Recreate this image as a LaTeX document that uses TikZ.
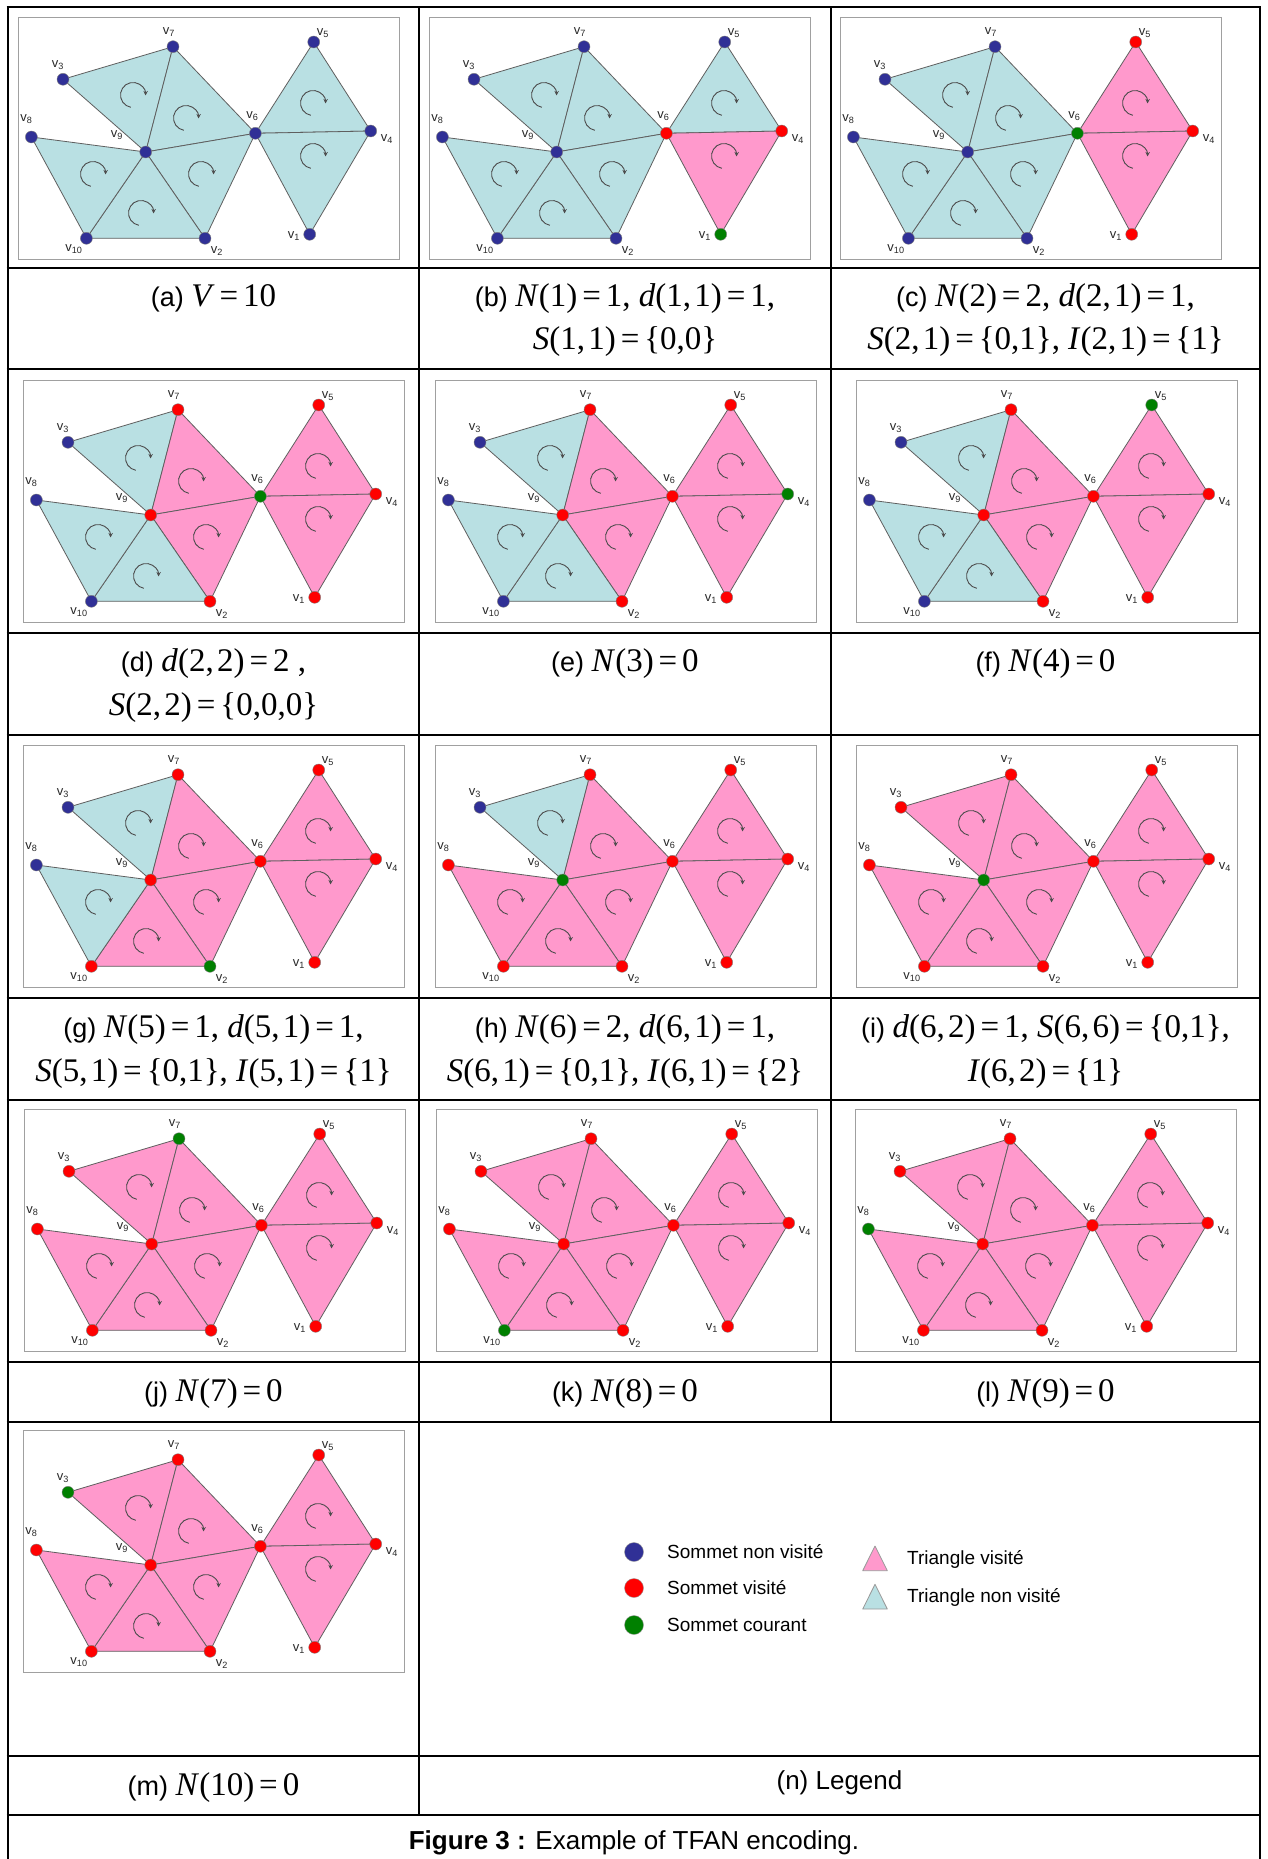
\documentclass[tikz,border=0pt]{standalone}
\usepackage{fontspec}
\setmainfont{Liberation Sans}
\newfontfamily\tms{Liberation Serif}
\usepackage{tikz}
\usepackage{xcolor}
\usetikzlibrary{arrows.meta,positioning,calc}
\definecolor{ink}{RGB}{0,0,0}
\definecolor{edgegray}{RGB}{95,95,95}
\definecolor{framegray}{RGB}{160,160,160}
\definecolor{labgray}{RGB}{40,40,40}
\definecolor{tv}{RGB}{255,153,204}
\definecolor{tn}{RGB}{185,224,227}
\definecolor{sn}{RGB}{48,48,150}
\definecolor{sv}{RGB}{255,0,0}
\definecolor{sc}{RGB}{0,128,0}
\newcommand{\mth}[1]{{\tms\fontsize{33}{33}\selectfont #1}}
\newcommand{\vr}[1]{\textit{#1}}
\newcommand{\eqs}{\kern0.15em=\kern0.15em}
\newcommand{\cm}{,\kern0.1em}
\tikzset{
  hrule/.style={line width=2.6pt,draw=ink},
  vrule/.style={line width=2pt,draw=ink},
  imgframe/.style={draw=framegray,line width=1pt,fill=white,minimum width=381pt,minimum height=242pt,inner sep=0pt,anchor=north west},
  tri/.style={fill=#1,draw=edgegray,line width=0.8pt,line join=round},
  spin/.style={draw=black!70,line width=0.9pt,-{Stealth[length=4.5pt,width=4.5pt]}},
  vdot/.style={circle,inner sep=0pt,minimum size=12pt,draw=black!50,line width=0.4pt,fill=#1},
  vlab/.style={font=\fontsize{13}{13}\selectfont,text=labgray,inner sep=0pt},
  captxt/.style={anchor=base,inner sep=0pt,font=\fontsize{27}{27}\selectfont},
  legdot/.style={circle,inner sep=0pt,minimum size=19pt,draw=black!40,line width=0.4pt,fill=#1},
  legtext/.style={anchor=west,inner sep=0pt,font=\fontsize{19}{19}\selectfont}
}
\newcommand{\meshpanel}[4]{%
  \begin{scope}[shift={#2}]
    \node[imgframe] (#1-frame) at (0,0) {};
    \coordinate (#1-p1) at (291.7,217.3);
    \coordinate (#1-p2) at (187,221.3);
    \coordinate (#1-p3) at (45,62.3);
    \coordinate (#1-p4) at (352.7,114);
    \coordinate (#1-p5) at (295.7,25);
    \coordinate (#1-p6) at (237.4,116.3);
    \coordinate (#1-p7) at (155,29.7);
    \coordinate (#1-p8) at (13.4,120);
    \coordinate (#1-p9) at (127.7,135);
    \coordinate (#1-p10) at (68.4,221.3);
    \foreach \f [count=\k] in {#4} {
      \ifcase\k\or
        \path[tri=\f] (#1-p3) -- (#1-p7) -- (#1-p9) -- cycle;\or
        \path[tri=\f] (#1-p7) -- (#1-p6) -- (#1-p9) -- cycle;\or
        \path[tri=\f] (#1-p9) -- (#1-p6) -- (#1-p2) -- cycle;\or
        \path[tri=\f] (#1-p9) -- (#1-p2) -- (#1-p10) -- cycle;\or
        \path[tri=\f] (#1-p8) -- (#1-p9) -- (#1-p10) -- cycle;\or
        \path[tri=\f] (#1-p6) -- (#1-p5) -- (#1-p4) -- cycle;\or
        \path[tri=\f] (#1-p6) -- (#1-p4) -- (#1-p1) -- cycle;
      \fi}
    \foreach \cx/\cy in {115/78,168/101,183/157,123/196,75/157,295/86,295/139}
      \draw[spin] (\cx,\cy) ++(100:12.5) arc[start angle=100,end angle=362,radius=12.5];
    \foreach \s [count=\i] in {#3}
      \node[vdot=\s] (#1-v\i) at (#1-p\i) {};
    \foreach \i/\lx/\ly in {1/276/219.3,2/199/234.3,3/40/48.3,4/369/122,5/305/16.5,
                            6/234.4/99.3,7/151/14.7,8/8.4/102,9/99/118,10/56/232.3}
      \node[vlab] (#1-l\i) at (\lx,\ly) {v\textsubscript{\i}};
  \end{scope}}

\begin{document}
\begin{tikzpicture}[x=1pt,y=-1pt]
  \useasboundingbox (0,0) rectangle (1267,1859);

  \meshpanel{a}{(18,17)}{sn,sn,sn,sn,sn,sn,sn,sn,sn,sn}{tn,tn,tn,tn,tn,tn,tn}
  \meshpanel{b}{(429,17)}{sc,sn,sn,sv,sn,sv,sn,sn,sn,sn}{tn,tn,tn,tn,tn,tn,tv}
  \meshpanel{c}{(840,17)}{sv,sn,sn,sv,sv,sc,sn,sn,sn,sn}{tn,tn,tn,tn,tn,tv,tv}
  \meshpanel{d}{(23,380)}{sv,sv,sn,sv,sv,sc,sv,sn,sv,sn}{tn,tv,tv,tn,tn,tv,tv}
  \meshpanel{e}{(435,380)}{sv,sv,sn,sc,sv,sv,sv,sn,sv,sn}{tn,tv,tv,tn,tn,tv,tv}
  \meshpanel{f}{(856,380)}{sv,sv,sn,sv,sc,sv,sv,sn,sv,sn}{tn,tv,tv,tn,tn,tv,tv}
  \meshpanel{g}{(23,745)}{sv,sc,sn,sv,sv,sv,sv,sn,sv,sv}{tn,tv,tv,tv,tn,tv,tv}
  \meshpanel{h}{(435,745)}{sv,sv,sn,sv,sv,sv,sv,sv,sc,sv}{tn,tv,tv,tv,tv,tv,tv}
  \meshpanel{i}{(856,745)}{sv,sv,sv,sv,sv,sv,sv,sv,sc,sv}{tv,tv,tv,tv,tv,tv,tv}
  \meshpanel{j}{(24,1109)}{sv,sv,sv,sv,sv,sv,sc,sv,sv,sv}{tv,tv,tv,tv,tv,tv,tv}
  \meshpanel{k}{(436,1109)}{sv,sv,sv,sv,sv,sv,sv,sv,sv,sc}{tv,tv,tv,tv,tv,tv,tv}
  \meshpanel{l}{(855,1109)}{sv,sv,sv,sv,sv,sv,sv,sc,sv,sv}{tv,tv,tv,tv,tv,tv,tv}
  \meshpanel{m}{(23,1430)}{sv,sv,sc,sv,sv,sv,sv,sv,sv,sv}{tv,tv,tv,tv,tv,tv,tv}

  \node[captxt] (cap-a) at (213.5,306) {(a) \mth{\vr{V}\eqs10}};
  \node[captxt] (cap-b1) at (625,306) {(b) \mth{\vr{N}(1)\eqs1, \vr{d}(1\cm1)\eqs1,}};
  \node[captxt] (cap-b2) at (625,349) {\mth{\vr{S}(1\cm1)\eqs\{0,0\}}};
  \node[captxt] (cap-c1) at (1045.5,306) {(c) \mth{\vr{N}(2)\eqs2, \vr{d}(2\cm1)\eqs1,}};
  \node[captxt] (cap-c2) at (1045.5,349) {\mth{\vr{S}(2\cm1)\eqs\{0,1\}, \vr{I}(2\cm1)\eqs\{1\}}};
  \node[captxt] (cap-d1) at (213.5,671) {(d) \mth{\vr{d}(2\cm2)\eqs2 ,}};
  \node[captxt] (cap-d2) at (213.5,715) {\mth{\vr{S}(2\cm2)\eqs\{0,0,0\}}};
  \node[captxt] (cap-e) at (625,671) {(e) \mth{\vr{N}(3)\eqs0}};
  \node[captxt] (cap-f) at (1045.5,671) {(f) \mth{\vr{N}(4)\eqs0}};
  \node[captxt] (cap-g1) at (213.5,1037) {(g) \mth{\vr{N}(5)\eqs1, \vr{d}(5\cm1)\eqs1,}};
  \node[captxt] (cap-g2) at (213.5,1081) {\mth{\vr{S}(5\cm1)\eqs\{0,1\}, \vr{I}(5\cm1)\eqs\{1\}}};
  \node[captxt] (cap-h1) at (625,1037) {(h) \mth{\vr{N}(6)\eqs2, \vr{d}(6\cm1)\eqs1,}};
  \node[captxt] (cap-h2) at (625,1081) {\mth{\vr{S}(6\cm1)\eqs\{0,1\}, \vr{I}(6\cm1)\eqs\{2\}}};
  \node[captxt] (cap-i1) at (1045.5,1037) {(i) \mth{\vr{d}(6\cm2)\eqs1, \vr{S}(6\cm6)\eqs\{0,1\},}};
  \node[captxt] (cap-i2) at (1045.5,1081) {\mth{\vr{I}(6\cm2)\eqs\{1\}}};
  \node[captxt] (cap-j) at (213.5,1401) {(j) \mth{\vr{N}(7)\eqs0}};
  \node[captxt] (cap-k) at (625,1401) {(k) \mth{\vr{N}(8)\eqs0}};
  \node[captxt] (cap-l) at (1045.5,1401) {(l) \mth{\vr{N}(9)\eqs0}};
  \node[captxt] (cap-m) at (213.5,1795) {(m) \mth{\vr{N}(10)\eqs0}};
  \node[captxt,font=\fontsize{26}{26}\selectfont] (cap-n) at (839.5,1789) {(n) Legend};
  \node[captxt,font=\fontsize{26}{26}\selectfont] (cap-fig) at (634,1849) {\textbf{Figure 3 :} Example of TFAN encoding.};

  \node[legdot=sn] (ld-n) at (634,1552) {};
  \node[legdot=sv] (ld-v) at (634,1588) {};
  \node[legdot=sc] (ld-c) at (634,1625) {};
  \node[legtext] (lt-n) at (667,1552) {Sommet non visité};
  \node[legtext] (lt-v) at (667,1588) {Sommet visité};
  \node[legtext] (lt-c) at (667,1625) {Sommet courant};
  \path[tri=tv,draw=black!40] (862.7,1570.7) -- (875,1546) -- (887.3,1570.7) -- cycle;
  \path[tri=tn,draw=black!40] (862.7,1609) -- (875,1584.3) -- (887.3,1609) -- cycle;
  \node[legtext] (lt-tv) at (907,1559) {Triangle visité};
  \node[legtext] (lt-tn) at (907,1597) {Triangle non visité};

  \draw[vrule] (7.5,7) -- (7.5,1859);
  \draw[vrule] (1260,7) -- (1260,1859);
  \draw[vrule] (419,7) -- (419,1815);
  \draw[vrule] (831,7) -- (831,1422);
  \foreach \y in {7,268,369,633,735,998,1100,1362,1422,1756,1815}
    \draw[hrule] (6.5,\y) -- (1261,\y);
\end{tikzpicture}
\end{document}
